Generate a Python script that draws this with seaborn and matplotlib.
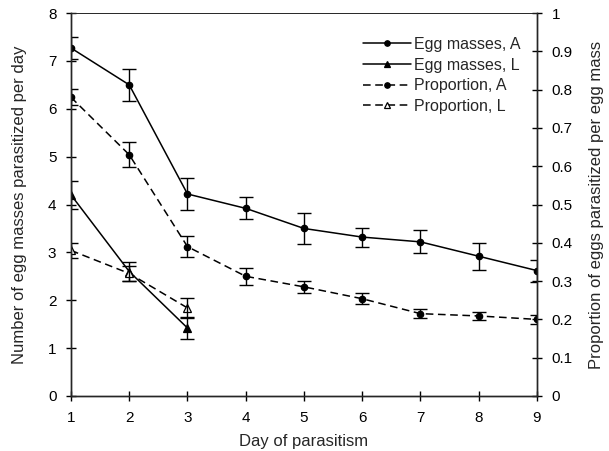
import matplotlib
matplotlib.use("Agg")
import matplotlib.pyplot as plt
import seaborn as sns
import pandas as pd

# data (mean and half error bar)
days = [1, 2, 3, 4, 5, 6, 7, 8, 9]
days_L = [1, 2, 3]

egg_A = [7.27, 6.5, 4.22, 3.92, 3.5, 3.32, 3.22, 2.92, 2.62]
egg_A_err = [0.23, 0.34, 0.33, 0.23, 0.32, 0.2, 0.24, 0.28, 0.23]
egg_L = [4.2, 2.6, 1.42]
egg_L_err = [0.3, 0.2, 0.22]

prop_A = [0.78, 0.63, 0.39, 0.3125, 0.285, 0.254, 0.215, 0.209, 0.2]
prop_A_err = [0.021, 0.033, 0.028, 0.022, 0.016, 0.015, 0.012, 0.011, 0.012]
prop_L = [0.38, 0.32, 0.23]
prop_L_err = [0.02, 0.02, 0.027]

sns.set_style("ticks")
plt.rcParams['font.family'] = ['Liberation Sans', 'DejaVu Sans']

fig = plt.figure(figsize=(6.09, 4.51), dpi=100)
ax = fig.add_axes([0.1166, 0.122, 0.765, 0.849])
ax2 = ax.twinx()

def draw(axis, x, y, err, marker, ls, fill, label):
    df = pd.DataFrame({"day": x, "val": y})
    sns.lineplot(data=df, x="day", y="val", ax=axis, color="black", linewidth=1.1,
                 linestyle=ls, marker=marker, markersize=4.6 if marker == "o" else 5.2,
                 markerfacecolor=fill, markeredgecolor="black", markeredgewidth=0.9,
                 label=label, dashes=False)
    if ls != "-":
        axis.lines[-1].set_dashes([5, 3])
    axis.errorbar(x, y, yerr=err, fmt="none", ecolor="black", elinewidth=1,
                  capsize=5, capthick=1)

draw(ax, days, egg_A, egg_A_err, "o", "-", "black", "Egg masses, A")
draw(ax, days_L, egg_L, egg_L_err, "^", "-", "black", "Egg masses, L")
draw(ax2, days, prop_A, prop_A_err, "o", "--", "black", "Proportion, A")
draw(ax2, days_L, prop_L, prop_L_err, "^", "--", "white", "Proportion, L")

ax.set_xlim(1, 9)
ax.set_ylim(0, 8)
ax2.set_ylim(0, 1)
ax.set_xticks(days)
ax.set_yticks(range(0, 9))
ax2.set_yticks([i / 10 for i in range(0, 11)])
ax2.set_yticklabels(["0"] + [f"{i/10:.1f}" for i in range(1, 10)] + ["1"])

for a in (ax, ax2):
    a.tick_params(direction="inout", length=7, width=1, labelsize=11, colors="black", pad=7)
    for s in a.spines.values():
        s.set_linewidth(1)
    a.spines["top"].set_linewidth(0.6)

ax.set_xlabel("Day of parasitism", fontsize=12, labelpad=7)
ax.set_ylabel("Number of egg masses parasitized per day", fontsize=12, labelpad=15)
ax2.set_ylabel("Proportion of eggs parasitized per egg mass", fontsize=12, labelpad=12)
ax2.set_xlabel("")

h1, l1 = ax.get_legend_handles_labels()
h2, l2 = ax2.get_legend_handles_labels()
if ax.get_legend():
    ax.get_legend().remove()
leg = ax2.legend(h1 + h2, l1 + l2, loc="upper right", bbox_to_anchor=(0.995, 0.975),
                 frameon=False, fontsize=11.5, handlelength=3.0, handletextpad=0.15,
                 labelspacing=0.35, markerscale=0.85)

fig.savefig("out.png", dpi=100)
